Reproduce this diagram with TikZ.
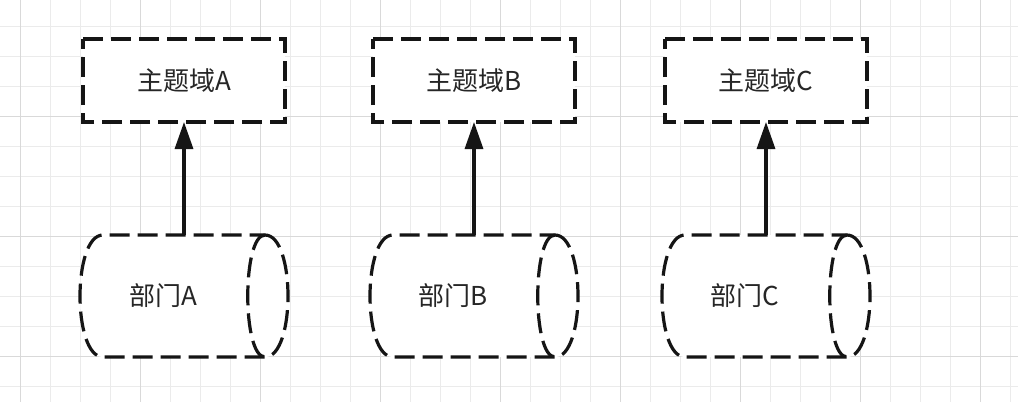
\documentclass[tikz,border=0pt]{standalone}
\usepackage{fontspec}
\newfontfamily\cjk{Noto Sans CJK SC}
\usetikzlibrary{arrows.meta}
\definecolor{gridminor}{HTML}{EBEBEB}
\definecolor{gridmajor}{HTML}{D9D9D9}
\definecolor{ink}{HTML}{151515}
\definecolor{txt}{HTML}{262626}
\newcommand\drawcyl[1]{%
  \draw[dashline, fill=white]
    ([xshift=-23pt]#1.north east)
      .. controls ([xshift=7.67pt]#1.north east) and ([xshift=7.67pt]#1.south east) ..
    ([xshift=-23pt]#1.south east) -- ([xshift=23pt]#1.south west)
      .. controls ([xshift=-7.67pt]#1.south west) and ([xshift=-7.67pt]#1.north west) ..
    ([xshift=23pt]#1.north west) -- cycle;
  \draw[dashline]
    ([xshift=-23pt]#1.north east)
      .. controls ([xshift=-46pt]#1.north east) and ([xshift=-46pt]#1.south east) ..
    ([xshift=-23pt]#1.south east);}
\newcommand\drawbox[1]{%
  \draw[dashline] (#1.north west) -- (#1.north east) -- (#1.south east) -- (#1.south west) -- cycle;}
\begin{document}
\begin{tikzpicture}[x=1pt,y=-1pt,
  dashline/.style={draw=ink, line width=3.2pt, dash pattern=on 20pt off 8pt},
  labelfont/.style={font=\cjk\fontsize{26pt}{30pt}\selectfont, text=txt},
  topicbox/.style={fill=white, rectangle, minimum width=202pt, minimum height=83pt, inner sep=0pt, outer sep=0pt, labelfont},
  cylframe/.style={rectangle, minimum width=208pt, minimum height=122pt, inner sep=0pt, outer sep=0pt},
  cyltext/.style={labelfont, inner sep=0pt},
  arr/.style={draw=ink, line width=3.2pt, -{Triangle[length=27pt,width=18pt]}},
  minorline/.style={draw=gridminor, line width=1pt},
  majorline/.style={draw=gridmajor, line width=1pt}]
\useasboundingbox (0,0) rectangle (1018,402);
\fill[white] (0,0) rectangle (1018,402);
% grid
\foreach \k in {0,...,33} \draw[minorline] ({20.7+30*\k},0) -- ({20.7+30*\k},402);
\foreach \k in {0,...,12} \draw[minorline] (0,{26.7+30*\k}) -- (1018,{26.7+30*\k});
\foreach \k in {0,4,...,32} \draw[majorline] ({20.7+30*\k},0) -- ({20.7+30*\k},402);
\foreach \k in {3,7,11} \draw[majorline] (0,{26.7+30*\k}) -- (1018,{26.7+30*\k});
% topic boxes
\node[topicbox] (tA) at (184,80.5) {主题域A};
\node[topicbox] (tB) at (474,80.5) {主题域B};
\node[topicbox] (tC) at (766,80.5) {主题域C};
\drawbox{tA}
\drawbox{tB}
\drawbox{tC}
% cylinders
\node[cylframe] (cA) at (184,296) {};
\node[cylframe] (cB) at (474,296) {};
\node[cylframe] (cC) at (766,296) {};
\drawcyl{cA}
\drawcyl{cB}
\drawcyl{cC}
\node[cyltext] (lA) at ([xshift=-21pt]cA.center) {部门A};
\node[cyltext] (lB) at ([xshift=-21pt]cB.center) {部门B};
\node[cyltext] (lC) at ([xshift=-21pt]cC.center) {部门C};
% arrows
\draw[arr] (cA.north) -- (tA.south);
\draw[arr] (cB.north) -- (tB.south);
\draw[arr] (cC.north) -- (tC.south);
\end{tikzpicture}
\end{document}
